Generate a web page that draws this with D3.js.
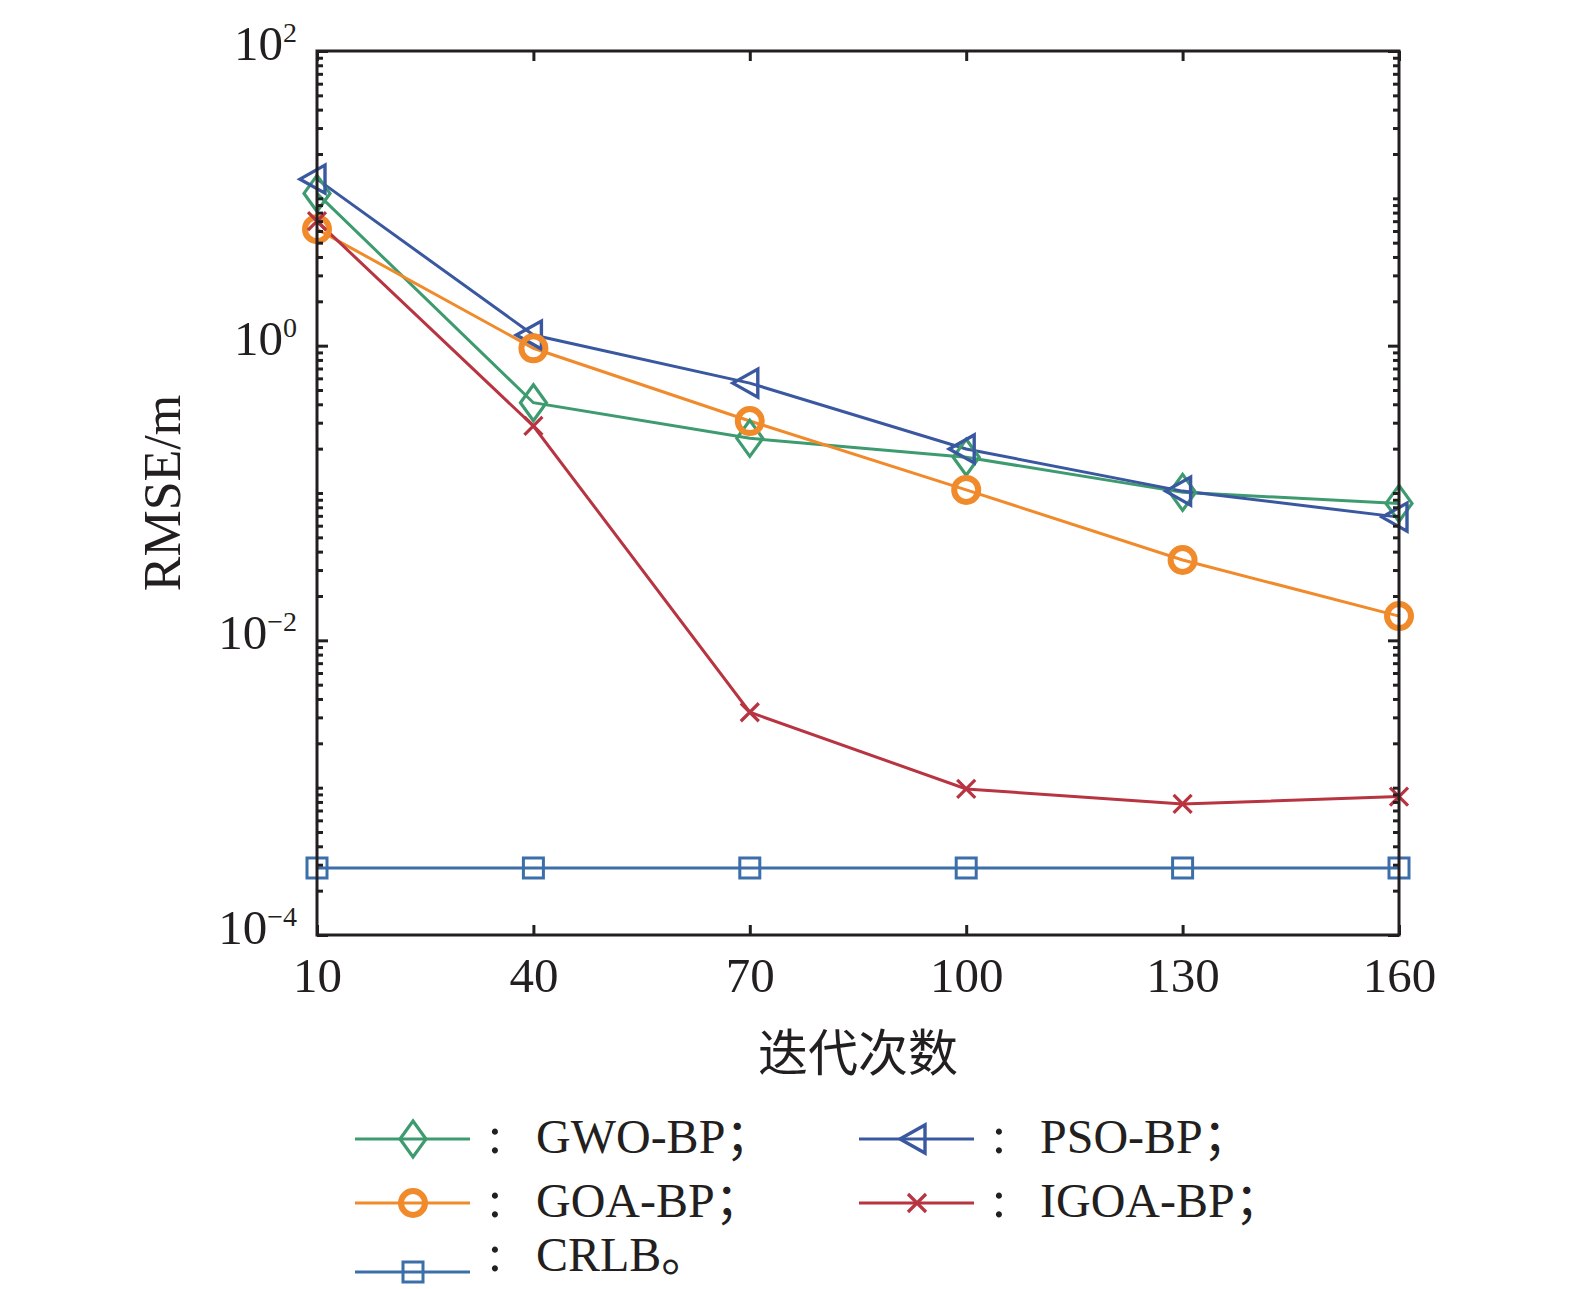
<!DOCTYPE html>
<html>
<head>
<meta charset="utf-8">
<script src="https://cdn.jsdelivr.net/npm/d3@7"></script>
<style>
  body { margin: 0; background: #fff; }
  svg text { font-family: "Liberation Serif", "Noto Sans CJK SC", serif; fill: #231f20; }
</style>
</head>
<body>
<div id="vis"></div>
<script>
// data
var iterations = [10, 40, 70, 100, 130, 160];
var gwo  = [10.8, 0.41, 0.235, 0.175, 0.101, 0.085];
var pso  = [13.5, 1.18, 0.557, 0.199, 0.103, 0.0686];
var goa  = [6.17, 0.96, 0.308, 0.105, 0.0351, 0.0146];
var igoa = [7.0, 0.285, 0.00325, 0.00098, 0.000775, 0.00087];
var crlb = [2.85e-4, 2.85e-4, 2.85e-4, 2.85e-4, 2.85e-4, 2.85e-4];

var seriesNames = ["GWO-BP", "PSO-BP", "GOA-BP", "IGOA-BP", "CRLB"];
var yMajor = [1e-4, 1e-2, 1, 1e2];
var yMajorExp = ["\u22124", "\u22122", "0", "2"];

(function () {
var w = 1575, h = 1289;
var mLeft = 317, mRight = 1399, mTop = 51, mBottom = 935;

var series = [
    {name: seriesNames[0], values: gwo,  color: "#3d9b6f", marker: "diamond"},
    {name: seriesNames[1], values: pso,  color: "#3a58a0", marker: "triangle"},
    {name: seriesNames[2], values: goa,  color: "#f08a2a", marker: "circle"},
    {name: seriesNames[3], values: igoa, color: "#b73440", marker: "cross"},
    {name: seriesNames[4], values: crlb, color: "#3c6eaa", marker: "square"}
];

var x = d3.scaleLinear().domain([10, 160]).range([mLeft, mRight]);
var y = d3.scaleLog().domain([1e-4, 1e2]).range([mBottom, mTop]);

var svg = d3.select("#vis").append("svg")
    .attr("width", w)
    .attr("height", h);

function drawMarker(g, type, cx, cy, color) {
    if (type == "diamond") {
        g.append("path")
            .attr("d", "M" + cx + "," + (cy - 18) + "L" + (cx + 13) + "," + cy +
                "L" + cx + "," + (cy + 18) + "L" + (cx - 13) + "," + cy + "Z")
            .attr("fill", "none").attr("stroke", color).attr("stroke-width", 3.2);
    } else if (type == "triangle") {
        g.append("path")
            .attr("d", "M" + (cx - 17) + "," + cy + "L" + (cx + 8) + "," + (cy - 14) +
                "L" + (cx + 8) + "," + (cy + 14) + "Z")
            .attr("fill", "none").attr("stroke", color).attr("stroke-width", 3.4);
    } else if (type == "circle") {
        g.append("circle")
            .attr("cx", cx).attr("cy", cy).attr("r", 12)
            .attr("fill", "none").attr("stroke", color).attr("stroke-width", 6);
    } else if (type == "cross") {
        g.append("path")
            .attr("d", "M" + (cx - 9) + "," + (cy - 9) + "L" + (cx + 9) + "," + (cy + 9) +
                "M" + (cx - 9) + "," + (cy + 9) + "L" + (cx + 9) + "," + (cy - 9))
            .attr("fill", "none").attr("stroke", color).attr("stroke-width", 3.2);
    } else if (type == "square") {
        g.append("rect")
            .attr("x", cx - 10).attr("y", cy - 10).attr("width", 20).attr("height", 20)
            .attr("fill", "none").attr("stroke", color).attr("stroke-width", 3);
    }
}

// lines + markers
var line = d3.line()
    .x(function (d, i) { return x(iterations[i]); })
    .y(function (d) { return y(d); });

var plot = svg.append("g");
series.forEach(function (s) {
    plot.append("path")
        .datum(s.values)
        .attr("d", line)
        .attr("fill", "none")
        .attr("stroke", s.color)
        .attr("stroke-width", 3);
});
series.forEach(function (s) {
    var g = plot.append("g");
    s.values.forEach(function (v, i) {
        drawMarker(g, s.marker, x(iterations[i]), y(v), s.color);
    });
});

// minor log ticks (10^-3, 10^-1, 10^1 get the short ones too)
var yMinor = [];
for (var e = -4; e < 2; e++) {
    for (var k = 1; k <= 9; k++) {
        var v = k * Math.pow(10, e);
        if (k == 1 && (e + 4) % 2 == 0) continue;
        yMinor.push(v);
    }
}

function styleAxis(g) {
    g.select(".domain").remove();
    g.selectAll(".tick line").attr("stroke", "#231f20").attr("stroke-width", 3);
}

svg.append("g")
    .attr("transform", "translate(0," + mBottom + ")")
    .call(d3.axisBottom(x).tickValues(iterations).tickSize(-10).tickSizeOuter(0).tickPadding(22))
    .call(styleAxis)
    .selectAll("text")
    .style("font-size", "49px")
    .style("font-family", "Liberation Serif")
    .attr("fill", "#231f20");

svg.append("g")
    .attr("transform", "translate(0," + mTop + ")")
    .call(d3.axisTop(x).tickValues(iterations).tickSize(-10).tickSizeOuter(0).tickFormat(""))
    .call(styleAxis);

[["L", mLeft, -11, yMajor], ["L", mLeft, -6, yMinor], ["R", mRight, -11, yMajor], ["R", mRight, -6, yMinor]]
    .forEach(function (a) {
        var ax = (a[0] == "L" ? d3.axisLeft(y) : d3.axisRight(y))
            .tickValues(a[3]).tickSize(a[2]).tickSizeOuter(0).tickFormat("");
        svg.append("g")
            .attr("transform", "translate(" + a[1] + ",0)")
            .call(ax)
            .call(styleAxis);
    });

// y tick labels 10^n
yMajor.forEach(function (v, i) {
    var t = svg.append("text")
        .attr("x", 297)
        .attr("y", y(v) + 9)
        .attr("text-anchor", "end")
        .style("font-size", "49px");
    t.append("tspan").text("10");
    t.append("tspan").attr("dy", -18).style("font-size", "28px").text(yMajorExp[i]);
});

// frame
svg.append("rect")
    .attr("x", mLeft).attr("y", mTop)
    .attr("width", mRight - mLeft).attr("height", mBottom - mTop)
    .attr("fill", "none").attr("stroke", "#231f20").attr("stroke-width", 3);

// axis titles
svg.append("text")
    .attr("transform", "translate(180," + ((mTop + mBottom) / 2) + ")rotate(-90)")
    .attr("text-anchor", "middle")
    .style("font-size", "52px")
    .text("RMSE/m");

svg.append("text")
    .attr("x", (mLeft + mRight) / 2)
    .attr("y", 1071)
    .attr("text-anchor", "middle")
    .style("font-family", "Noto Sans CJK SC")
    .style("font-size", "50px")
    .text("迭代次数");

// legend
var legendPos = [
    {col: 0, lineY: 1139, textY: 1153},
    {col: 1, lineY: 1139, textY: 1153},
    {col: 0, lineY: 1203, textY: 1217},
    {col: 1, lineY: 1203, textY: 1217},
    {col: 0, lineY: 1272, textY: 1271}
];
var colX = [355, 859];
var endMark = ["；", "；", "；", "；", "。"];

series.forEach(function (s, i) {
    var p = legendPos[i],
        x0 = colX[p.col];
    var g = svg.append("g");
    g.append("line")
        .attr("x1", x0).attr("x2", x0 + 115)
        .attr("y1", p.lineY).attr("y2", p.lineY)
        .attr("stroke", s.color).attr("stroke-width", 3);
    drawMarker(g, s.marker, x0 + 58, p.lineY, s.color);
    g.append("text")
        .attr("x", x0 + 140)
        .attr("y", p.textY)
        .attr("text-anchor", "middle")
        .style("font-size", "52px")
        .text(":");
    g.append("text")
        .attr("x", x0 + 181)
        .attr("y", p.textY)
        .style("font-size", "48px")
        .text(s.name + endMark[i]);
});
})();
</script>
</body>
</html>
